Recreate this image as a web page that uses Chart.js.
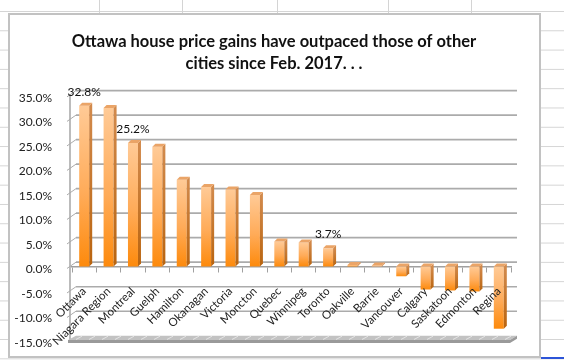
<!DOCTYPE html>
<html>
<head>
<meta charset="utf-8">
<script src="https://cdn.jsdelivr.net/npm/chart.js@4.4.1/dist/chart.umd.min.js"></script>
<style>
  html, body { margin: 0; padding: 0; }
  body {
    width: 564px; height: 361px; overflow: hidden; position: relative; background: #fff;
    background-image: linear-gradient(to bottom, #d4d4d4 1px, transparent 1px);
    background-size: 100% 19.3px;
    background-position: 0 11px;
  }
  .col { position: absolute; top: 0; width: 1px; height: 14px; background: #d4d4d4; }
  #box { position: absolute; left: 8px; top: 13px; width: 529px; height: 341px; background: #fff; border: 2px solid #c2c2c2; }
  #sel { position: absolute; left: 541px; top: 357px; width: 23px; height: 2px; background: #2c54d8; }
  canvas { position: absolute; left: 0; top: 0; }
</style>
</head>
<body>
<div class="col" style="left:99px"></div>
<div class="col" style="left:182px"></div>
<div class="col" style="left:277px"></div>
<div class="col" style="left:388px"></div>
<div class="col" style="left:471px"></div>
<div id="box"></div>
<div id="sel"></div>
<canvas id="chart" width="564" height="361"></canvas>
<script>
const cities = ['Ottawa', 'Niagara Region', 'Montreal', 'Guelph', 'Hamilton', 'Okanagan', 'Victoria',
  'Moncton', 'Quebec', 'Winnipeg', 'Toronto', 'Oakville', 'Barrie', 'Vancouver', 'Calgary',
  'Saskatoon', 'Edmonton', 'Regina'];
const gains = [32.8, 32.3, 25.2, 24.4, 17.7, 16.2, 15.7, 14.6, 5.1, 4.9, 3.7, 0.3, 0.2,
  -2.0, -4.7, -4.9, -5.1, -12.7];
const labelled = [0, 2, 10];   // bars that carry a value label
const yMin = -15, yMax = 35, yStep = 5;

const DX = 6, DY = -4.3;   // depth of the back wall
const SX = 3, SY = -3;     // depth of each bar

function barFill(ctx) {
  const chart = ctx.chart;
  const y = chart.scales.y;
  if (!y || ctx.type !== 'data') return '#fba24a';
  const v = gains[ctx.dataIndex];
  const top = y.getPixelForValue(Math.max(v, 0));
  const bot = y.getPixelForValue(Math.min(v, 0));
  if (!isFinite(top) || bot - top < 1) return '#fbb06a';
  const g = chart.ctx.createLinearGradient(0, top, 0, bot);
  g.addColorStop(0, '#ffca96');
  g.addColorStop(0.55, '#ffab58');
  g.addColorStop(1, '#fd8a0c');
  return g;
}

const depth3d = {
  id: 'depth3d',
  beforeDraw(chart) {
    const { ctx, chartArea: a, scales: { y } } = chart;
    ctx.save();
    ctx.strokeStyle = '#ababab';
    ctx.lineWidth = 1.6;
    // back wall grid lines + left wall
    for (let v = yMin + yStep; v <= yMax; v += yStep) {
      const py = y.getPixelForValue(v);
      ctx.beginPath();
      ctx.moveTo(a.left + DX - 2, py + DY);
      ctx.lineTo(a.right + DX, py + DY);
      ctx.stroke();
      ctx.beginPath();
      ctx.lineWidth = 1;
      ctx.moveTo(a.left - 5, py + 2);
      ctx.lineTo(a.left + DX - 2, py + DY);
      ctx.stroke();
      ctx.lineWidth = 1.6;
    }
    ctx.beginPath();
    ctx.moveTo(a.left - 2, y.getPixelForValue(yMax));
    ctx.lineTo(a.left - 2, y.getPixelForValue(yMin));
    ctx.stroke();
    // floor slab
    const fy = y.getPixelForValue(yMin);
    ctx.fillStyle = '#c2c2c2';
    ctx.beginPath();
    ctx.moveTo(a.left - 4, fy);
    ctx.lineTo(a.left + DX - 2, fy + DY);
    ctx.lineTo(a.right + DX, fy + DY);
    ctx.lineTo(a.right - 1, fy);
    ctx.closePath();
    ctx.fill();
    ctx.fillStyle = '#9a9a9a';
    ctx.fillRect(a.left - 4, fy, a.right - a.left + 3, 3);
    ctx.beginPath();
    ctx.moveTo(a.right - 1, fy);
    ctx.lineTo(a.right + DX, fy + DY);
    ctx.lineTo(a.right + DX, fy + DY + 3);
    ctx.lineTo(a.right - 1, fy + 3);
    ctx.closePath();
    ctx.fill();
    ctx.strokeStyle = 'rgba(255,255,255,0.55)';
    ctx.lineWidth = 1;
    for (let x = a.left + 4; x < a.right; x += 13) {
      ctx.beginPath();
      ctx.moveTo(x, fy - 0.5);
      ctx.lineTo(x + 6, fy + DY + 0.5);
      ctx.stroke();
    }
    ctx.restore();
  },
  afterDatasetsDraw(chart) {
    const { ctx, scales: { y } } = chart;
    const bars = chart.getDatasetMeta(0).data;
    ctx.save();
    bars.forEach((bar, i) => {
      const w = bar.width;
      const xl = bar.x - w / 2, xr = bar.x + w / 2;
      const t = Math.min(bar.y, bar.base), b = Math.max(bar.y, bar.base);
      const side = ctx.createLinearGradient(0, t, 0, b);
      side.addColorStop(0, '#d28a4c');
      side.addColorStop(1, '#b9640f');
      ctx.fillStyle = side;
      ctx.beginPath();
      ctx.moveTo(xr, t);
      ctx.lineTo(xr + SX, t + SY);
      ctx.lineTo(xr + SX, b + SY);
      ctx.lineTo(xr, b);
      ctx.closePath();
      ctx.fill();
      ctx.fillStyle = '#eaa467';
      ctx.beginPath();
      ctx.moveTo(xl, t);
      ctx.lineTo(xl + SX, t + SY);
      ctx.lineTo(xr + SX, t + SY);
      ctx.lineTo(xr, t);
      ctx.closePath();
      ctx.fill();
    });
    ctx.fillStyle = '#111';
    ctx.font = '12px Lato';
    ctx.textAlign = 'center';
    ctx.textBaseline = 'middle';
    labelled.forEach(i => {
      const bar = bars[i];
      ctx.fillText(gains[i].toFixed(1) + '%', bar.x, y.getPixelForValue(gains[i]) - 14);
    });
    ctx.restore();
  }
};

new Chart(document.getElementById('chart'), {
  type: 'bar',
  data: {
    labels: cities,
    datasets: [{
      data: gains,
      backgroundColor: barFill,
      borderWidth: 0,
      barPercentage: 0.41,
      categoryPercentage: 1
    }]
  },
  plugins: [depth3d],
  options: {
    responsive: false,
    animation: false,
    layout: { padding: { left: 0, right: 16, top: 0, bottom: 21 } },
    plugins: {
      legend: { display: false },
      tooltip: { enabled: false },
      title: {
        display: true,
        text: ['Ottawa house price gains have outpaced those of other', 'cities since Feb. 2017. . .'],
        color: '#111',
        font: { family: 'Lato', size: 16.5, weight: 'bold', lineHeight: 1.36 },
        padding: { top: 30, bottom: 20 }
      }
    },
    scales: {
      x: {
        position: { y: 0 },
        offset: true,
        grid: { display: true, drawOnChartArea: false, drawTicks: true, tickLength: 5, color: '#a0a0a0', lineWidth: 1 },
        border: { display: true, color: '#a0a0a0', width: 1.5 },
        ticks: {
          z: 1,
          autoSkip: false, minRotation: 45, maxRotation: 45, padding: 13, labelOffset: 0,
          color: '#222', font: { family: 'Lato', size: 11.5 }
        }
      },
      y: {
        min: yMin, max: yMax,
        afterFit: s => { s.width = 72; },
        grid: { display: false },
        border: { display: false },
        ticks: {
          stepSize: yStep, padding: 12, labelOffset: 3,
          color: '#222', font: { family: 'Lato', size: 12 },
          callback: v => v.toFixed(1) + '%'
        }
      },
      yRight: {
        position: 'right',
        display: true,
        afterFit: s => { s.width = 37; },
        grid: { display: false },
        border: { display: false },
        ticks: { display: false }
      }
    }
  }
});
</script>
</body>
</html>
